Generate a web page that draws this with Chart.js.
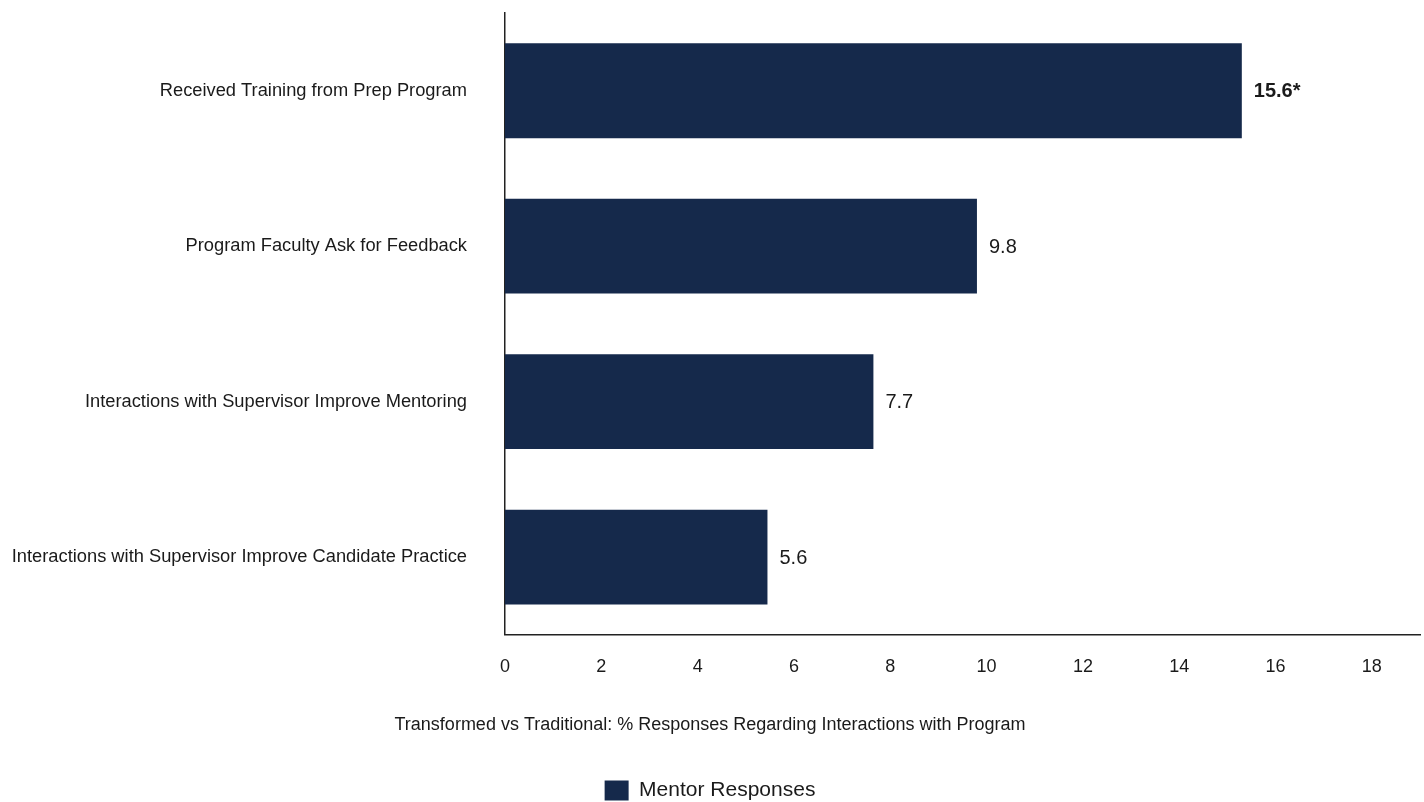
<!DOCTYPE html>
<html>
<head>
<meta charset="utf-8">
<script src="https://cdn.jsdelivr.net/npm/chart.js@4/dist/chart.umd.min.js"></script>
<style>
html,body{margin:0;padding:0;background:#fff;}
#wrap{width:1424px;height:802px;}
</style>
</head>
<body>
<div id="wrap"><canvas id="c" width="1424" height="802"></canvas></div>
<script>
const categories = [
  "Received Training from Prep Program",
  "Program Faculty Ask for Feedback",
  "Interactions with Supervisor Improve Mentoring",
  "Interactions with Supervisor Improve Candidate Practice"
];
const mentorValues = [15.3, 9.8, 7.65, 5.45];
const valueLabels = ["15.6*", "9.8", "7.7", "5.6"];
const boldLabels = [true, false, false, false];
const seriesName = "Mentor Responses";
const chartTitle = "Transformed vs Traditional: % Responses Regarding Interactions with Program";
const xTicks = [0, 2, 4, 6, 8, 10, 12, 14, 16, 18];

const FONT = "'Liberation Sans', Arial, sans-serif";
const BAR = "#15294b";
const TEXT = "#1a1a1a";

const valueLabelPlugin = {
  id: 'valueLabels',
  afterDatasetsDraw(chart) {
    const ctx = chart.ctx;
    const meta = chart.getDatasetMeta(0);
    ctx.save();
    ctx.textBaseline = 'middle';
    ctx.textAlign = 'left';
    ctx.fillStyle = TEXT;
    meta.data.forEach((el, i) => {
      ctx.font = (boldLabels[i] ? 'bold ' : '') + '20px ' + FONT;
      ctx.fillText(valueLabels[i], el.x + 12, el.y + 1);
    });
    ctx.restore();
  }
};

new Chart(document.getElementById('c'), {
  type: 'bar',
  data: {
    labels: categories,
    datasets: [{
      label: seriesName,
      data: mentorValues,
      backgroundColor: BAR,
      borderWidth: 0,
      barPercentage: 0.61,
      categoryPercentage: 1.0
    }]
  },
  options: {
    indexAxis: 'y',
    responsive: false,
    animation: false,
    devicePixelRatio: 1,
    layout: { padding: { top: 13, right: 4, left: 0, bottom: -9 } },
    scales: {
      x: {
        min: 0, max: 19,
        grid: { display: false, drawTicks: false },
        border: { display: true, color: '#222', width: 1.5 },
        afterBuildTicks(axis) { axis.ticks = xTicks.map(v => ({ value: v })); },
        ticks: { font: { family: FONT, size: 18 }, color: TEXT, padding: 21, maxRotation: 0, autoSkip: false }
      },
      y: {
        grid: { display: false, drawTicks: false },
        border: { display: true, color: '#222', width: 1.5 },
        afterFit(scale) { scale.width = 505; scale.paddingTop = 0; scale.paddingBottom = 0; },
        ticks: { font: { family: FONT, size: 18.3 }, color: TEXT, padding: 38, autoSkip: false }
      }
    },
    plugins: {
      title: {
        display: true,
        text: chartTitle,
        position: 'bottom',
        weight: 500,
        font: { family: FONT, size: 18, weight: 'normal' },
        color: TEXT,
        padding: { top: 16, bottom: 44 }
      },
      legend: {
        position: 'bottom',
        labels: {
          font: { family: FONT, size: 21 },
          color: TEXT,
          boxWidth: 24,
          boxHeight: 20,
          padding: 0
        }
      },
      tooltip: { enabled: false }
    }
  },
  plugins: [valueLabelPlugin]
});
</script>
</body>
</html>
